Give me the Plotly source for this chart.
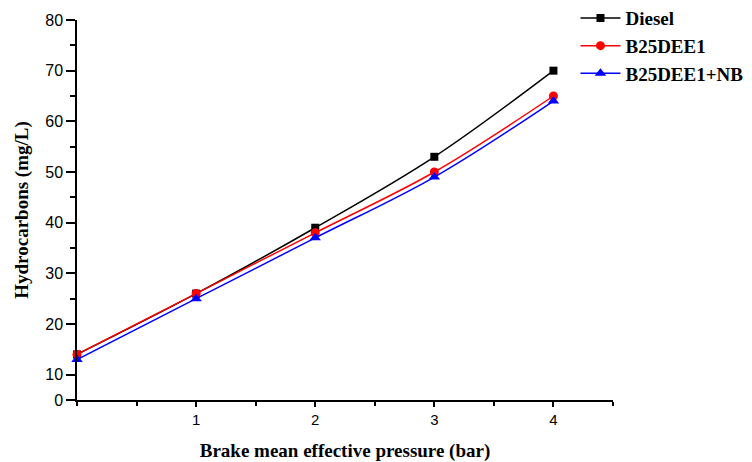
import plotly.graph_objects as go

# Brake mean effective pressure (bar)
bmep = [0, 1, 2, 3, 4]

# Hydrocarbon emissions (mg/L)
diesel = [14, 26, 39, 53, 70]
b25dee1 = [14, 26, 38, 50, 65]
b25dee1_nb = [13, 25, 37, 49, 64]

series_names = ["Diesel", "B25DEE1", "B25DEE1+NB"]
series_colors = ["#000000", "#ff0000", "#0000ff"]
series_symbols = ["square", "circle", "triangle-up"]
series_sizes = [8, 9, 10]

y_tick_vals = [5, 10, 20, 30, 40, 50, 60, 70, 80]
y_tick_text = ["0", "10", "20", "30", "40", "50", "60", "70", "80"]
x_tick_vals = [1, 2, 3, 4]
x_tick_text = ["1", "2", "3", "4"]

fig = go.Figure()
for name, vals, col, sym, sz in zip(series_names, [diesel, b25dee1, b25dee1_nb],
                                    series_colors, series_symbols, series_sizes):
    fig.add_trace(go.Scatter(
        x=bmep, y=vals, name=name, mode="lines+markers",
        line=dict(color=col, width=1.5, shape="spline", smoothing=1.0),
        marker=dict(symbol=sym, size=sz, color=col),
        cliponaxis=False,
    ))

serif = "Liberation Serif, Times New Roman, serif"
sans = "Liberation Sans, Arial, sans-serif"

fig.update_layout(
    width=752, height=462,
    paper_bgcolor="white", plot_bgcolor="white",
    margin=dict(l=77, r=139, t=20, b=62, autoexpand=False),
    showlegend=True,
    legend=dict(
        x=0.93, y=1.055, xanchor="left", yanchor="top",
        font=dict(family=serif, size=19, color="black", weight="bold"),
        bgcolor="rgba(0,0,0,0)", tracegroupgap=0, itemwidth=40,
    ),
    xaxis=dict(
        range=[0, 4.5], showgrid=False, zeroline=False, automargin=False,
        showline=True, linecolor="black", linewidth=1.5,
        tickmode="array", tickvals=x_tick_vals, ticktext=x_tick_text,
        ticks="outside", ticklen=5, tickwidth=1.5, tickcolor="black",
        tickfont=dict(family=sans, size=15, color="black"),
        minor=dict(tickvals=[0, 0.5, 1.5, 2.5, 3.5, 4.5], ticks="outside",
                   ticklen=4, tickwidth=1.5, tickcolor="black"),
        title=dict(text="Brake mean effective pressure (bar)", standoff=20,
                   font=dict(family=serif, size=19, color="black", weight="bold")),
    ),
    yaxis=dict(
        range=[5, 80], showgrid=False, zeroline=False, automargin=False,
        showline=True, linecolor="black", linewidth=1.5,
        tickmode="array", tickvals=y_tick_vals, ticktext=y_tick_text,
        ticks="outside", ticklen=9, tickwidth=1.5, tickcolor="black",
        tickfont=dict(family=sans, size=16, color="black"),
        minor=dict(tickvals=[25, 35, 45, 55, 65, 75], ticks="outside",
                   ticklen=5, tickwidth=1.5, tickcolor="black"),
        title=dict(text="Hydrocarbons (mg/L)", standoff=12,
                   font=dict(family=serif, size=19, color="black", weight="bold")),
    ),
)

fig.write_html("out.html")
